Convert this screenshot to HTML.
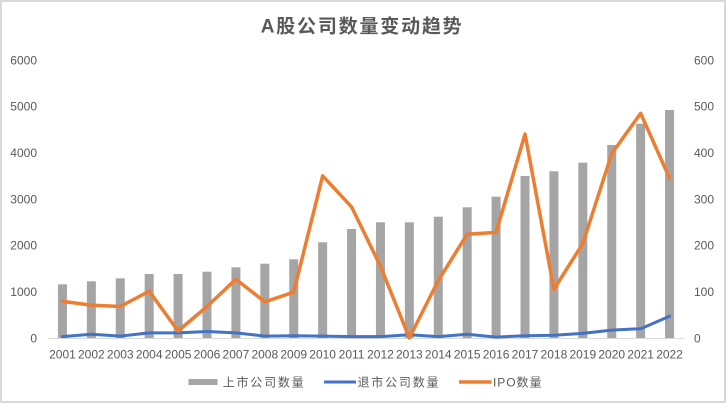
<!DOCTYPE html>
<html>
<head>
<meta charset="utf-8">
<style>
  html,body{margin:0;padding:0;background:#fff;}
  body{width:726px;height:403px;overflow:hidden;}
  svg{display:block;}
  text{font-family:"Liberation Sans","Noto Sans CJK SC",sans-serif;fill:#595959;}
</style>
</head>
<body>
<svg width="726" height="403" viewBox="0 0 726 403" xmlns="http://www.w3.org/2000/svg">
  <rect x="0" y="0" width="726" height="403" fill="#fff"/>
  <rect x="1" y="1" width="724" height="401" fill="none" stroke="#D9D9D9" stroke-width="2"/>

  <!-- Title -->
  <text x="260.7" y="32.5" font-size="19" font-weight="bold" textLength="201" lengthAdjust="spacing" style="font-family:'Liberation Sans','Noto Sans CJK SC',sans-serif;fill:#595959;">A股公司数量变动趋势</text>

  <!-- Left axis labels -->
  <g font-size="12" text-anchor="end">
    <text x="37" y="64.3">6000</text>
    <text x="37" y="110.6">5000</text>
    <text x="37" y="157">4000</text>
    <text x="37" y="203.3">3000</text>
    <text x="37" y="249.6">2000</text>
    <text x="37" y="296">1000</text>
    <text x="37" y="342.3">0</text>
  </g>
  <!-- Right axis labels -->
  <g font-size="12" text-anchor="start">
    <text x="694" y="64.3">600</text>
    <text x="694" y="110.6">500</text>
    <text x="694" y="157">400</text>
    <text x="694" y="203.3">300</text>
    <text x="694" y="249.6">200</text>
    <text x="694" y="296">100</text>
    <text x="694" y="342.3">0</text>
  </g>

  <!-- Axis line -->
  <line x1="48" y1="338.5" x2="684" y2="338.5" stroke="#D9D9D9" stroke-width="1"/>

  <!-- Bars -->
  <g fill="#A5A5A5">
    <rect x="57.95" y="284.3" width="9" height="53.7"/>
    <rect x="86.86" y="281.3" width="9" height="56.7"/>
    <rect x="115.77" y="278.3" width="9" height="59.7"/>
    <rect x="144.68" y="274.0" width="9" height="64.0"/>
    <rect x="173.59" y="274.0" width="9" height="64.0"/>
    <rect x="202.50" y="271.7" width="9" height="66.3"/>
    <rect x="231.41" y="267.3" width="9" height="70.7"/>
    <rect x="260.32" y="263.7" width="9" height="74.3"/>
    <rect x="289.23" y="259.3" width="9" height="78.7"/>
    <rect x="318.14" y="242.3" width="9" height="95.7"/>
    <rect x="347.05" y="229.0" width="9" height="109.0"/>
    <rect x="375.95" y="222.3" width="9" height="115.7"/>
    <rect x="404.86" y="222.3" width="9" height="115.7"/>
    <rect x="433.77" y="216.7" width="9" height="121.3"/>
    <rect x="462.68" y="207.3" width="9" height="130.7"/>
    <rect x="491.59" y="196.7" width="9" height="141.3"/>
    <rect x="520.50" y="176.0" width="9" height="162.0"/>
    <rect x="549.41" y="171.3" width="9" height="166.7"/>
    <rect x="578.32" y="162.7" width="9" height="175.3"/>
    <rect x="607.23" y="145.0" width="9" height="193.0"/>
    <rect x="636.14" y="123.7" width="9" height="214.3"/>
    <rect x="665.05" y="110.0" width="9" height="228.0"/>
  </g>

  <!-- Delisted (blue) -->
  <polyline fill="none" stroke="#4472C4" stroke-width="3" stroke-linejoin="round" stroke-linecap="round"
    points="62.45,336.6 91.36,334.3 120.27,336.1 149.18,332.9 178.09,332.9 207.00,331.5 235.91,332.9 264.82,336.1 293.73,335.7 322.64,336.1 351.55,336.6 380.45,336.6 409.36,334.8 438.27,336.6 467.18,334.3 496.09,337.1 525.00,335.7 553.91,335.2 582.82,333.4 611.73,330.1 640.64,328.7 669.55,316.2"/>

  <!-- IPO (orange) -->
  <polyline fill="none" stroke="#ED7D31" stroke-width="3.5" stroke-linejoin="round" stroke-linecap="round"
    points="62.45,301.4 91.36,305.1 120.27,306.5 149.18,291.2 178.09,331.0 207.00,306.5 235.91,279.2 264.82,301.9 293.73,292.1 322.64,175.8 351.55,206.9 380.45,266.2 409.36,338.0 438.27,280.5 467.18,234.2 496.09,232.4 525.00,134.1 553.91,289.3 582.82,243.5 611.73,153.6 640.64,113.3 669.55,178.2"/>

  <!-- X labels -->
  <g font-size="12" text-anchor="middle">
    <text x="62.45" y="358.5">2001</text>
    <text x="91.36" y="358.5">2002</text>
    <text x="120.27" y="358.5">2003</text>
    <text x="149.18" y="358.5">2004</text>
    <text x="178.09" y="358.5">2005</text>
    <text x="207.00" y="358.5">2006</text>
    <text x="235.91" y="358.5">2007</text>
    <text x="264.82" y="358.5">2008</text>
    <text x="293.73" y="358.5">2009</text>
    <text x="322.64" y="358.5">2010</text>
    <text x="351.55" y="358.5">2011</text>
    <text x="380.45" y="358.5">2012</text>
    <text x="409.36" y="358.5">2013</text>
    <text x="438.27" y="358.5">2014</text>
    <text x="467.18" y="358.5">2015</text>
    <text x="496.09" y="358.5">2016</text>
    <text x="525.00" y="358.5">2017</text>
    <text x="553.91" y="358.5">2018</text>
    <text x="582.82" y="358.5">2019</text>
    <text x="611.73" y="358.5">2020</text>
    <text x="640.64" y="358.5">2021</text>
    <text x="669.55" y="358.5">2022</text>
  </g>

  <!-- Legend -->
  <rect x="188.5" y="379" width="29" height="6" fill="#A5A5A5"/>
  <text x="222.7" y="386.5" font-size="12" textLength="81" lengthAdjust="spacing">上市公司数量</text>
  <line x1="324" y1="382" x2="356" y2="382" stroke="#4472C4" stroke-width="3"/>
  <text x="357.5" y="386.5" font-size="12" textLength="81" lengthAdjust="spacing">退市公司数量</text>
  <line x1="459" y1="382" x2="491.5" y2="382" stroke="#ED7D31" stroke-width="3.5"/>
  <text x="493" y="386.5" font-size="12" textLength="48.5" lengthAdjust="spacing">IPO数量</text>
</svg>
</body>
</html>
